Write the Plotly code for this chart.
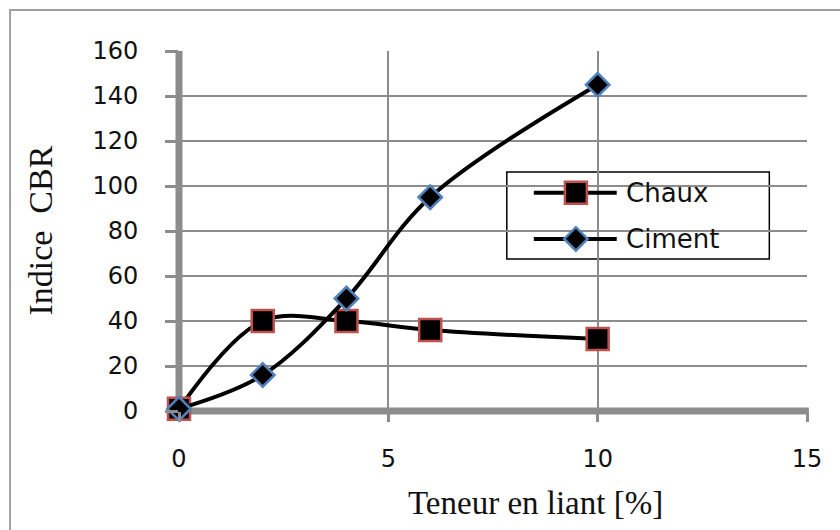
import plotly.graph_objects as go

# Teneur en liant (%) et indice CBR mesuré
teneur = [0, 2, 4, 6, 10]
chaux = [1, 40, 40, 36, 32]
ciment = [1, 16, 50, 95, 145]

series_names = ["Chaux", "Ciment"]
x_ticks = [0, 5, 10, 15]
y_ticks = [0, 20, 40, 60, 80, 100, 120, 140, 160]

GRID = "#8c8c8c"
SANS = "DejaVu Sans"
SERIF = "Liberation Serif"
TXT = "#111"

styles = {
    "Chaux": dict(symbol="square", size=22, color="black",
                  line=dict(color="#c0504d", width=2.5)),
    "Ciment": dict(symbol="diamond", size=18, color="black",
                   line=dict(color="#4f81bd", width=2.5)),
}

fig = go.Figure()

for name, values in zip(series_names, [chaux, ciment]):
    fig.add_trace(go.Scatter(
        x=teneur, y=values, name=name, mode="lines+markers",
        line=dict(color="black", width=4, shape="spline", smoothing=1),
        marker=styles[name], showlegend=False, cliponaxis=False,
    ))

# Legend drawn on an overlay axis spanning the plot area in 0..1 units
leg_rows = {"Chaux": 0.606, "Ciment": 0.478}
for name in series_names:
    yr = leg_rows[name]
    fig.add_trace(go.Scatter(
        x=[0.565, 0.697], y=[yr, yr], mode="lines",
        line=dict(color="black", width=4),
        xaxis="x2", yaxis="y2", showlegend=False, hoverinfo="skip",
    ))
    fig.add_trace(go.Scatter(
        x=[0.632], y=[yr], mode="markers", marker=styles[name],
        xaxis="x2", yaxis="y2", showlegend=False, hoverinfo="skip",
    ))

x_range = [x_ticks[0], x_ticks[-1]]
y_range = [y_ticks[0], y_ticks[-1]]

fig.update_layout(
    xaxis=dict(
        range=x_range, tickvals=x_ticks, ticktext=[str(v) for v in x_ticks],
        showgrid=True, gridcolor=GRID, gridwidth=2,
        showline=False,
        ticks="outside", ticklen=10, tickwidth=3, tickcolor=GRID,
        ticklabelstandoff=16,
        tickfont=dict(family=SANS, size=24, color=TXT),
        zeroline=False,
    ),
    yaxis=dict(
        range=y_range, tickvals=y_ticks,
        showgrid=True, gridcolor=GRID, gridwidth=2,
        showline=False,
        ticks="outside", ticklen=13, tickwidth=3, tickcolor=GRID,
        ticklabelstandoff=22,
        tickfont=dict(family=SANS, size=24, color=TXT),
        zeroline=False,
    ),
    xaxis2=dict(overlaying="x", range=[0, 1], visible=False, anchor="y2"),
    yaxis2=dict(overlaying="y", range=[0, 1], visible=False, anchor="x2"),
    width=840, height=530,
    margin=dict(l=179, r=33, t=51, b=119),
    paper_bgcolor="white", plot_bgcolor="white",
    showlegend=False,
    annotations=[
        dict(text="Teneur en liant [%]", x=(535 - 179) / 628, xref="paper",
             y=-0.255, yref="paper", xanchor="center", yanchor="middle",
             showarrow=False, font=dict(family=SERIF, size=33, color=TXT)),
        dict(text="Indice  CBR", x=-0.222, xref="paper", y=0.5, yref="paper",
             xanchor="center", yanchor="middle", textangle=-90,
             showarrow=False, font=dict(family=SERIF, size=34, color=TXT)),
    ] + [
        dict(text=name, x=0.709, xref="paper", y=leg_rows[name], yref="paper",
             xanchor="left", yanchor="middle", showarrow=False,
             font=dict(family=SANS, size=26, color=TXT))
        for name in series_names
    ],
    shapes=[
        # outer chart frame
        dict(type="rect", xref="paper", yref="paper",
             x0=-0.269, x1=1.3, y0=-0.5, y1=1.114,
             line=dict(color="#a0a0a0", width=2), layer="below"),
        # heavy axis lines along the left and bottom edges (unclipped)
        dict(type="line", xref="paper", yref="paper",
             x0=0, x1=0, y0=-0.005, y1=1,
             line=dict(color=GRID, width=7), layer="between"),
        dict(type="line", xref="paper", yref="paper",
             x0=-0.003, x1=1.003, y0=0, y1=0,
             line=dict(color=GRID, width=7), layer="between"),
        # legend box
        dict(type="rect", xref="paper", yref="paper",
             x0=0.522, x1=0.940, y0=0.422, y1=0.664,
             fillcolor="white", line=dict(color="black", width=1.5),
             layer="between"),
    ],
)

fig.write_html("out.html")
